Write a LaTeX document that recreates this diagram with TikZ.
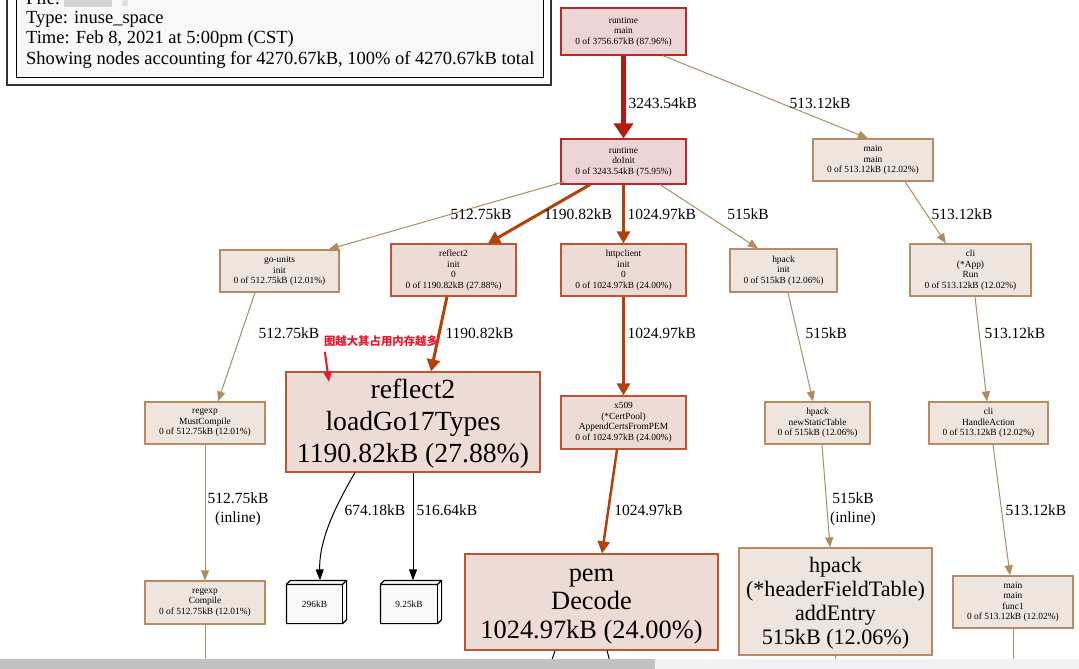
\documentclass[tikz,border=0pt]{standalone}
\usepackage{fontspec}
\setmainfont{Liberation Serif}
\newfontfamily\cjk{Noto Sans CJK SC}
\usetikzlibrary{arrows.meta}
\definecolor{redE}{HTML}{B21B0E}
\definecolor{orE}{HTML}{B2400B}
\definecolor{tanE}{HTML}{B28A5F}
\definecolor{redF}{HTML}{EED5D5}
\definecolor{redB}{HTML}{B8282A}
\definecolor{orF}{HTML}{EDDCD5}
\definecolor{orB}{HTML}{BF5530}
\definecolor{tanF}{HTML}{EEE5DF}
\definecolor{tanB}{HTML}{B88B62}
\definecolor{boxF}{HTML}{F8F8F8}
\definecolor{annred}{HTML}{E8192C}
\definecolor{scrollA}{HTML}{C1C1C1}
\definecolor{scrollB}{HTML}{F1F1F1}
\newcommand\boxthreed[1]{%
  \filldraw[fill=boxF,draw=black,line width=1.2pt,line join=round]
    (#1.south west) -- (#1.north west) -- ([xshift=4pt,yshift=4pt]#1.north west)
    -- ([xshift=4pt,yshift=4pt]#1.north east) -- ([xshift=4pt,yshift=4pt]#1.south east)
    -- (#1.south east) -- cycle;
  \draw[black,line width=1.2pt,line join=round] (#1.north west) -- (#1.north east)
    -- ([xshift=4pt,yshift=4pt]#1.north east);
  \draw[black,line width=1.2pt] (#1.north east) -- (#1.south east);
  \node[font=\fontsize{9.4}{10.5}\selectfont] at (#1.center) {\csname boxtext#1\endcsname};
}
\begin{document}
\begin{tikzpicture}[x=1pt,y=-1pt,
  nd/.style={rectangle,inner sep=0pt,align=center,line width=1.2pt,
    font=\fontsize{9.4}{10.5}\selectfont},
  tann/.style={nd,draw=tanB,fill=tanF},
  redn/.style={nd,draw=redB,fill=redF},
  orn/.style={nd,draw=orB,fill=orF},
  lab/.style={inner sep=0pt,align=center,font=\fontsize{15.5}{19}\selectfont},
  labw/.style={lab,anchor=west},
  etan/.style={draw=tanE,line width=1pt,-{Triangle[length=10pt,width=8pt]}},
  eblk/.style={draw=black,line width=1pt,-{Triangle[length=11pt,width=8pt]}},
  eor/.style={draw=orE,line width=3pt,-{Triangle[length=12pt,width=13pt]}},
  eor2/.style={draw=orE,line width=2.5pt,-{Triangle[length=12pt,width=12pt]}},
  ered/.style={draw=redE,line width=5pt,-{Triangle[length=15pt,width=19pt]}},
  legtext/.style={anchor=west,inner sep=0pt,font=\fontsize{18.5}{20}\selectfont}
]
\useasboundingbox (0,0) rectangle (1079,669);
\fill[white] (0,0) rectangle (1079,669);

% legend
\draw[line width=1.6pt,draw=black!80] (7,-20) rectangle (551,85);
\draw[line width=0.8pt,draw=black,fill=boxF] (16,-20) rectangle (543,77);
\node[legtext] (lfile) at (26,-2) {File:};
\fill[gray!35] (64,-4) rectangle (112,7);
\fill[gray!25] (122,-4) rectangle (128,6);
\node[legtext] (ltype) at (26,19.5) {Type: inuse\_space};
\node[legtext] (ltime) at (26,39.5) {Time: Feb 8, 2021 at 5:00pm (CST)};
\node[legtext] (lshow) at (26,59.5) {Showing nodes accounting for 4270.67kB, 100\% of 4270.67kB total};

% nodes
\node[redn,minimum width=125pt,minimum height=47pt] (rtmain) at (623.5,31.5) {runtime\\main\\0 of 3756.67kB (87.96\%)};
\node[redn,minimum width=125pt,minimum height=45pt] (doinit) at (623.5,161.5) {runtime\\doInit\\0 of 3243.54kB (75.95\%)};
\node[tann,minimum width=120pt,minimum height=42pt] (mainmain) at (873,160) {main\\main\\0 of 513.12kB (12.02\%)};
\node[tann,minimum width=119pt,minimum height=42pt] (gounits) at (279.5,271) {go-units\\init\\0 of 512.75kB (12.01\%)};
\node[orn,minimum width=125pt,minimum height=52pt] (r2init) at (453.5,270) {reflect2\\init\\0\\0 of 1190.82kB (27.88\%)};
\node[orn,minimum width=125pt,minimum height=52pt] (httpc) at (623.5,270) {httpclient\\init\\0\\0 of 1024.97kB (24.00\%)};
\node[tann,minimum width=107pt,minimum height=43pt] (hpinit) at (783.5,270.5) {hpack\\init\\0 of 515kB (12.06\%)};
\node[tann,minimum width=121pt,minimum height=52pt] (clirun) at (970.5,270) {cli\\(*App)\\Run\\0 of 513.12kB (12.02\%)};
\node[tann,minimum width=120pt,minimum height=42pt] (mustc) at (205,423) {regexp\\MustCompile\\0 of 512.75kB (12.01\%)};
\node[orn,minimum width=254pt,minimum height=100pt,font=\fontsize{27.7}{32}\selectfont] (loadgo) at (413,422) {\rule{0pt}{22pt}reflect2\\loadGo17Types\\1190.82kB (27.88\%)};
\node[orn,minimum width=125pt,minimum height=53pt] (x509) at (623.5,422.5) {x509\\(*CertPool)\\AppendCertsFromPEM\\0 of 1024.97kB (24.00\%)};
\node[tann,minimum width=105pt,minimum height=42pt] (newst) at (817.5,423) {hpack\\newStaticTable\\0 of 515kB (12.06\%)};
\node[tann,minimum width=119pt,minimum height=42pt] (handle) at (988.5,423) {cli\\HandleAction\\0 of 513.12kB (12.02\%)};
\node[tann,minimum width=120pt,minimum height=43pt] (compile) at (205,602.5) {regexp\\Compile\\0 of 512.75kB (12.01\%)};
\node[nd,minimum width=55pt,minimum height=38pt] (b296) at (314.5,604) {};
\node[nd,minimum width=56pt,minimum height=38pt] (b925) at (409,604) {};
\expandafter\def\csname boxtextb296\endcsname{296kB}
\expandafter\def\csname boxtextb925\endcsname{9.25kB}
\boxthreed{b296}
\boxthreed{b925}
\node[orn,minimum width=253pt,minimum height=96pt,font=\fontsize{26.4}{28.5}\selectfont] (pem) at (591.5,602) {\rule{0pt}{21pt}pem\\Decode\\1024.97kB (24.00\%)};
\node[tann,minimum width=193pt,minimum height=107pt,font=\fontsize{22.1}{24}\selectfont] (addentry) at (835.5,601.5) {\rule{0pt}{19.5pt}hpack\\(*headerFieldTable)\\addEntry\\515kB (12.06\%)};
\node[tann,minimum width=120pt,minimum height=52pt] (func1) at (1013,602) {main\\main\\func1\\0 of 513.12kB (12.02\%)};

% edges
\draw[ered] (rtmain.south) -- (doinit.north) node[labw] at (626,103) {3243.54kB};
\draw[etan] ([xshift=39.5pt]rtmain.south) -- ([xshift=-5pt]mainmain.north) node[lab] at (820,103) {513.12kB};
\draw[etan] ([xshift=4pt,yshift=3pt]doinit.south west) -- ([xshift=-11pt]gounits.north east) node[lab] at (481,214) {512.75kB};
\draw[eor] ([xshift=-33.5pt]doinit.south) -- ([xshift=34.5pt]r2init.north) node[lab] at (578,214) {1190.82kB};
\draw[eor] (doinit.south) -- (httpc.north) node[labw] at (626,214) {1024.97kB};
\draw[etan] ([xshift=36.5pt]doinit.south) -- ([xshift=-25.5pt]hpinit.north) node[lab] at (748,214) {515kB};
\draw[etan] ([xshift=32pt]mainmain.south) -- ([xshift=-24.5pt]clirun.north) node[lab] at (962,214) {513.12kB};
\draw[etan] ([xshift=-24.5pt]gounits.south) -- ([xshift=13pt]mustc.north) node[labw] at (258,333) {512.75kB};
\draw[eor] ([xshift=-6.5pt]r2init.south) -- ([xshift=18pt]loadgo.north) node[labw] at (444,333) {1190.82kB};
\draw[eor] (httpc.south) -- (x509.north) node[labw] at (626,333) {1024.97kB};
\draw[etan] ([xshift=4.5pt]hpinit.south) -- ([xshift=-4.5pt]newst.north) node[labw] at (805,333) {515kB};
\draw[etan] ([xshift=4.5pt]clirun.south) -- ([xshift=-1.5pt]handle.north) node[labw] at (984,333) {513.12kB};
\draw[etan] (mustc.south) -- (compile.north) node[lab] at (238,509) {512.75kB\\(inline)};
\draw[eblk] ([xshift=-58pt]loadgo.south) .. controls (330,515) and (319,545) .. ([xshift=5.5pt,yshift=4pt]b296.north) node[labw] at (344,510) {674.18kB};
\draw[eblk] (loadgo.south) -- ([xshift=4pt,yshift=4pt]b925.north) node[labw] at (416,510) {516.64kB};
\draw[eor2] ([xshift=-6.5pt]x509.south) -- ([xshift=10.5pt]pem.north) node[labw] at (613,510) {1024.97kB};
\draw[etan] ([xshift=4.5pt]newst.south) -- ([xshift=-5.5pt]addentry.north) node[lab] at (853,509) {515kB\\(inline)};
\draw[etan] ([xshift=4.5pt]handle.south) -- ([xshift=-3pt]func1.north) node[labw] at (1005,510) {513.12kB};

% edges leaving the view
\coordinate (offA) at (205,669);
\coordinate (offB) at (1013,669);
\coordinate (offC) at (836,669);
\coordinate (offD) at (549,669);
\coordinate (offE) at (612,669);
\draw[tanE,line width=1pt] (compile.south) -- (offA);
\draw[tanE,line width=1pt] (func1.south) -- (offB);
\draw[tanE,line width=1pt] (addentry.south) -- (offC);
\draw[black,line width=1pt] ([xshift=-36.5pt]pem.south) -- (offD);
\draw[black,line width=1pt] ([xshift=15.5pt]pem.south) -- (offE);

% annotation
\node[text=annred,inner sep=0pt,font=\cjk\bfseries\fontsize{11.4}{13}\selectfont] (note) at (381,341) {图越大其占用内存越多};
\coordinate (annend) at (329,382);
\draw[annred,line width=2pt,-{Triangle[length=10pt,width=8pt]}] ([xshift=1pt,yshift=-5pt]note.south west) -- (annend);

% scrollbar
\fill[scrollA] (0,659) rectangle (655,669);
\fill[scrollB] (655,659) rectangle (1079,669);
\end{tikzpicture}
\end{document}
